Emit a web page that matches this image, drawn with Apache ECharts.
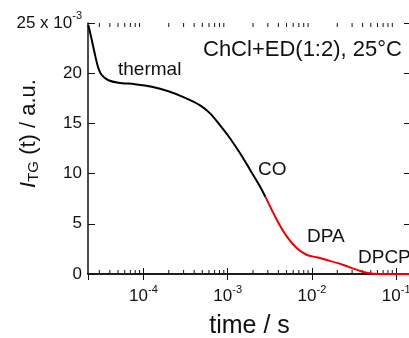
<!DOCTYPE html>
<html>
<head>
<meta charset="utf-8">
<script src="https://cdn.jsdelivr.net/npm/echarts@6/dist/echarts.min.js"></script>
<style>
  html, body { margin: 0; padding: 0; background: #fff; }
  #chart { width: 409px; height: 338px; }
</style>
</head>
<body>
<div id="chart"></div>
<script>
// transient grating signal, units of 1e-3 a.u.
const thermalTime = [2.22e-5, 2.44e-5, 2.67e-5, 2.92e-5, 3.21e-5, 3.84e-5, 5.05e-5, 7.96e-5,
  1.26e-4, 1.98e-4, 3.13e-4, 4.71e-4, 6.19e-4, 8.14e-4, 1.07e-3, 1.41e-3, 1.85e-3, 2.43e-3, 2.8e-3];
const thermalSignal = [24.8, 23.3, 21.8, 20.5, 19.8, 19.3, 19.05, 18.9,
  18.65, 18.2, 17.55, 16.8, 16.0, 14.8, 13.5, 12.0, 10.36, 8.7, 7.7];

const decayTime = [2.8e-3, 3.84e-3, 5.05e-3, 6.64e-3, 8.73e-3, 1.15e-2, 1.51e-2, 2.37e-2,
  3.75e-2, 5.39e-2, 8.5e-2, 0.15];
const decaySignal = [7.7, 5.38, 3.72, 2.56, 1.89, 1.66, 1.39, 0.9, 0.3, 0.02, 0, 0];

const minorTicks = [3e-5, 4e-5, 5e-5, 6e-5, 7e-5, 8e-5, 9e-5,
  2e-4, 3e-4, 4e-4, 5e-4, 6e-4, 7e-4, 8e-4, 9e-4,
  2e-3, 3e-3, 4e-3, 5e-3, 6e-3, 7e-3, 8e-3, 9e-3,
  2e-2, 3e-2, 4e-2, 5e-2, 6e-2, 7e-2, 8e-2, 9e-2];

const X_MIN = 2.2e-5, X_MAX = 0.15;
const Y_MIN = 0, Y_MAX = 25, Y_STEP = 5;

const FONT = "'Liberation Sans', Arial, sans-serif";
const INK = "#111";

const chart = echarts.init(document.getElementById("chart"), null, { renderer: "canvas" });

const supRich = {
  b: { fontFamily: FONT, fontSize: 17, color: INK, lineHeight: 17 },
  sup: { fontFamily: FONT, fontSize: 11, color: INK, lineHeight: 11, padding: [0, 0, 14, 0] },
};

const xTickLabel = (v) => {
  const e = Math.log10(v);
  if (Math.abs(e - Math.round(e)) > 1e-6) return "";
  return "{b|10}{sup|" + Math.round(e) + "}";
};

const frameX = (pos, showLabel) => ({
  type: "log",
  logBase: 10,
  position: pos,
  min: X_MIN,
  max: X_MAX,
  axisLine: { show: true, lineStyle: { color: INK, width: 1.5 } },
  axisTick: { show: true, inside: true, length: 6, lineStyle: { color: INK, width: 1 } },
  splitLine: { show: false },
  axisLabel: showLabel
    ? { show: true, margin: 14, formatter: xTickLabel, rich: supRich, showMinLabel: false, showMaxLabel: false }
    : { show: false },
});

const frameY = (pos, showLabel) => ({
  type: "value",
  position: pos,
  min: Y_MIN,
  max: Y_MAX,
  interval: Y_STEP,
  axisLine: { show: true, lineStyle: { color: INK, width: 1.5 } },
  axisTick: { show: true, inside: true, length: 7, lineStyle: { color: INK, width: 1 } },
  splitLine: { show: false },
  axisLabel: showLabel
    ? {
        show: true,
        margin: 6,
        rich: supRich,
        formatter: (v) => (v === Y_MAX ? "{b|" + v + " x 10}{sup|-3}" : "{b|" + v + "}"),
      }
    : { show: false },
});

const note = (text, x, y, size) => ({
  type: "text",
  x: x,
  y: y,
  style: { text: text, font: size + "px " + FONT, fill: INK, align: "left", verticalAlign: "middle" },
});

chart.setOption({
  animation: false,
  backgroundColor: "#fff",
  grid: { left: 88, top: 23, right: -2, bottom: 64, outerBoundsMode: "none", containLabel: false },
  xAxis: [
    Object.assign(frameX("bottom", true), {
      name: "time / s",
      nameLocation: "middle",
      nameGap: 40,
      nameMoveOverlap: false,
      nameTextStyle: { fontFamily: FONT, fontSize: 25, color: INK },
    }),
    frameX("top", false),
  ],
  yAxis: [
    Object.assign(frameY("left", true), {
      name: "{i|I}{sub|TG}{n| (t) / a.u.}",
      nameLocation: "middle",
      nameGap: 48,
      nameMoveOverlap: false,
      nameTextStyle: {
        padding: [0, 0, 0, 30],
        rich: {
          i: { fontFamily: FONT, fontSize: 22, fontStyle: "italic", color: INK, lineHeight: 22 },
          sub: { fontFamily: FONT, fontSize: 15, color: INK, lineHeight: 15, padding: [10, 0, 0, 0] },
          n: { fontFamily: FONT, fontSize: 22, color: INK, lineHeight: 22 },
        },
      },
    }),
    frameY("right", false),
  ],
  series: [
    {
      type: "custom",
      xAxisIndex: 0,
      yAxisIndex: 0,
      silent: true,
      data: minorTicks.map((t) => [t, Y_MIN]),
      renderItem: (params, api) => {
        const t = api.value(0);
        const b = api.coord([t, Y_MIN]);
        const top = api.coord([t, Y_MAX]);
        const st = { stroke: INK, lineWidth: 1 };
        return {
          type: "group",
          children: [
            { type: "line", shape: { x1: b[0], y1: b[1], x2: b[0], y2: b[1] - 4 }, style: st },
            { type: "line", shape: { x1: top[0], y1: top[1], x2: top[0], y2: top[1] + 4 }, style: st },
          ],
        };
      },
    },
    {
      type: "line",
      name: "thermal",
      data: thermalTime.map((t, i) => [t, thermalSignal[i]]),
      smooth: 0.3,
      showSymbol: false,
      lineStyle: { color: "#000", width: 2 },
    },
    {
      type: "line",
      name: "decay",
      data: decayTime.map((t, i) => [t, decaySignal[i]]),
      smooth: 0.3,
      showSymbol: false,
      lineStyle: { color: "#ee0000", width: 2 },
    },
  ],
  graphic: [
    note("ChCl+ED(1:2), 25\u00b0C", 203, 50, 22),
    note("thermal", 118, 70, 19),
    note("CO", 258, 170, 19),
    note("DPA", 307, 237, 19),
    note("DPCP", 358, 258, 19),
  ],
});
</script>
</body>
</html>
